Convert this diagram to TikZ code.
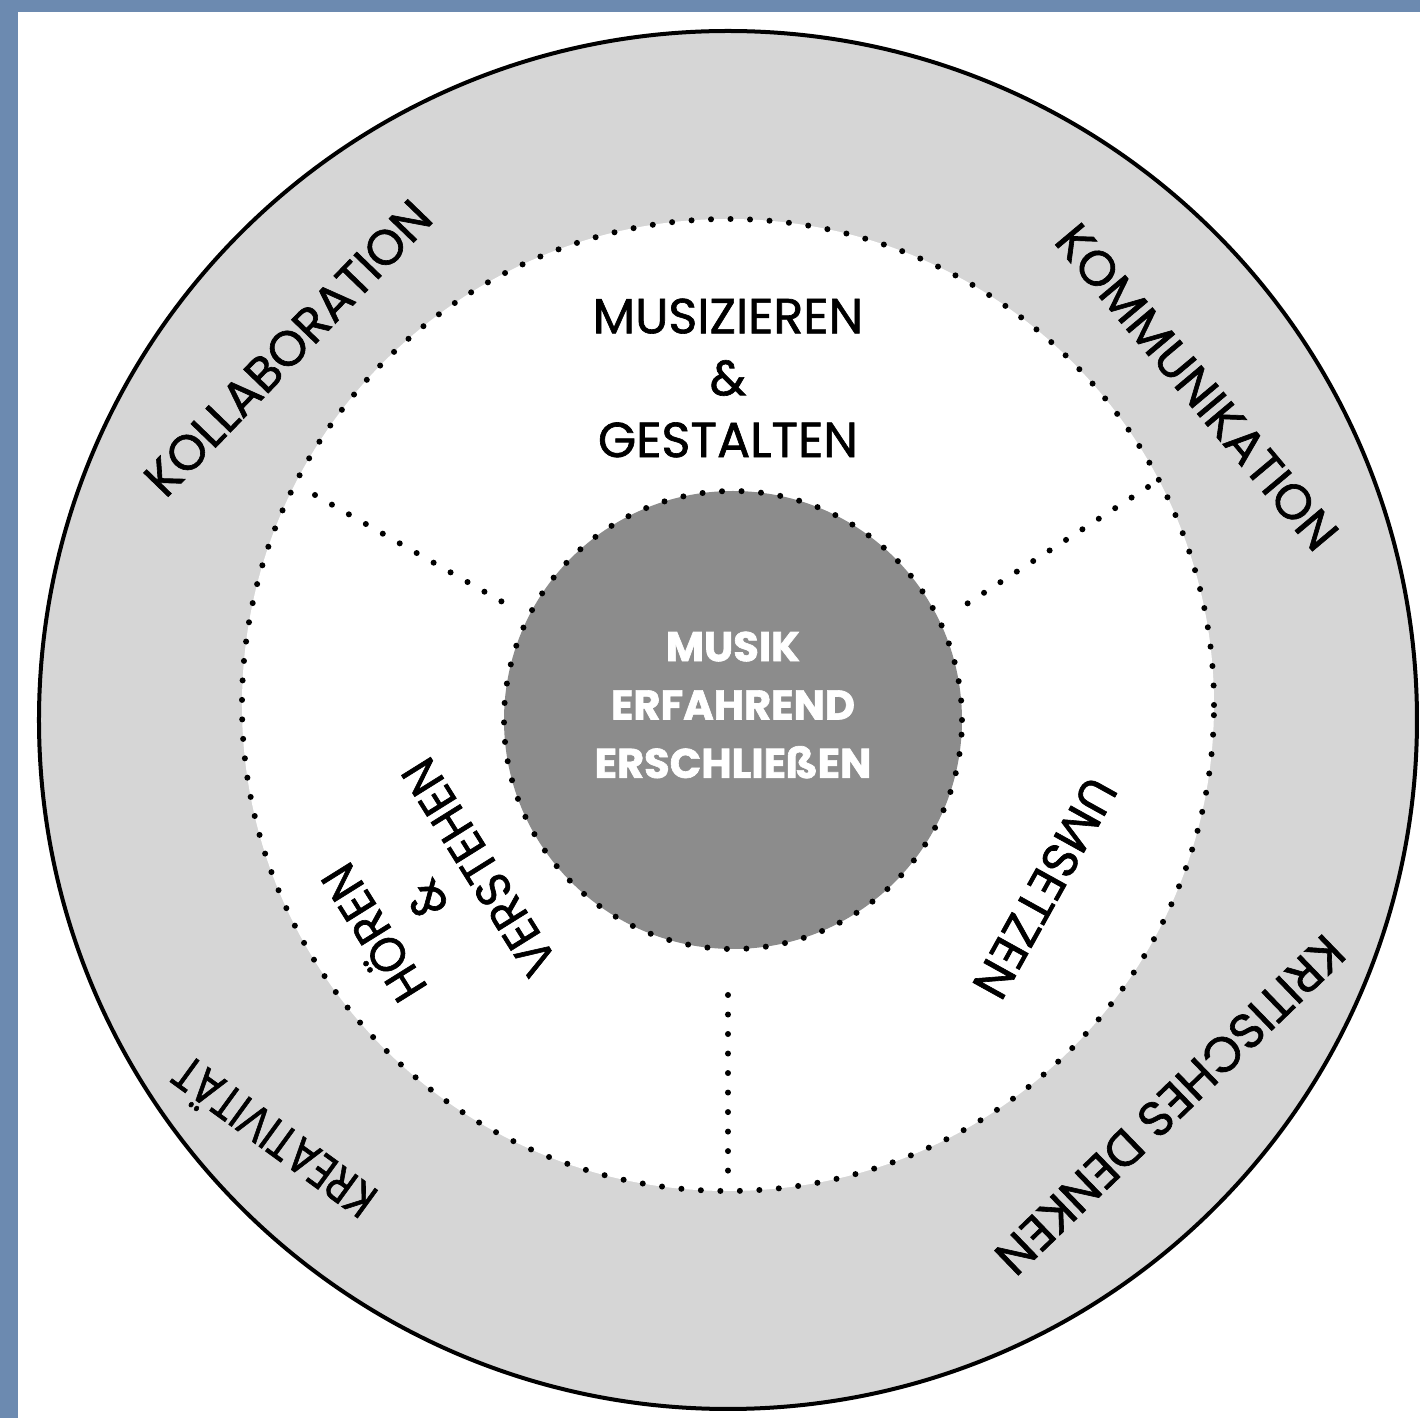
\documentclass[tikz,border=0pt]{standalone}
\usepackage{fontspec}
\setmainfont{Poppins}
\newfontfamily\lblfont{Poppins}[FakeBold=1.3]
\newfontfamily\ctrfont{Poppins}[BoldFeatures={FakeBold=1.5}]
\definecolor{framecol}{RGB}{108,138,176}
\definecolor{ringgray}{RGB}{214,214,214}
\definecolor{coregray}{RGB}{140,140,140}
\begin{document}
\begin{tikzpicture}[x=0.01cm,y=0.01cm,
  dotline/.style={line width=0.06cm, line cap=round, dash pattern=on 0pt off 0.195cm},
  lbl/.style={font=\lblfont\fontsize{14}{17.6}\selectfont, align=center, inner sep=0pt, text=black},
  ctr/.style={font=\ctrfont\bfseries\fontsize{11.8}{16.6}\selectfont, align=center, inner sep=0pt, text=white}]
\useasboundingbox (-728,-698) rectangle (692,720);
\fill[white] (-728,-698) rectangle (692,720);
\fill[framecol] (-728,-698) rectangle (-710,720);
\fill[framecol] (-728,708) rectangle (692,720);
% circles
\draw[line width=0.04cm, fill=ringgray] (0,0) circle (689);
\fill[white] (0,15) circle (486);
\draw[dotline] (0,15) circle (486);
\fill[coregray] (5,0) circle (229);
\draw[dotline] (5,0) circle (229);
% dividers
\coordinate (ul1) at (-413,225); \coordinate (ul2) at (-222,116);
\coordinate (ur1) at (420,233);  \coordinate (ur2) at (234,113);
\coordinate (b1) at (0,-275);    \coordinate (b2) at (0,-470);
\draw[dotline] (ul1) -- (ul2);
\draw[dotline] (ur1) -- (ur2);
\draw[dotline] (b1) -- (b2);
% texts
\node[lbl] (musiz) at (0,342) {MUSIZIEREN\\\&\\GESTALTEN};
\node[ctr] (core) at (5,15) {MUSIK\\ERFAHREND\\ERSCHLIEßEN};
\node[lbl, rotate=122, xscale=0.93] (hoeren) at (-305,-182) {HÖREN\\\&\\VERSTEHEN};
\node[lbl, rotate=241] (umsetzen) at (317,-168) {UMSETZEN};
\node[lbl, rotate=46] (koll) at (-440,372) {KOLLABORATION};
\node[lbl, rotate=-50] (komm) at (469,333) {KOMMUNIKATION};
\node[lbl, rotate=224] (krit) at (442,-385) {KRITISCHES DENKEN};
\node[lbl, rotate=144, xscale=0.82] (krea) at (-456,-420) {KREATIVITÄT};
\end{tikzpicture}
\end{document}
